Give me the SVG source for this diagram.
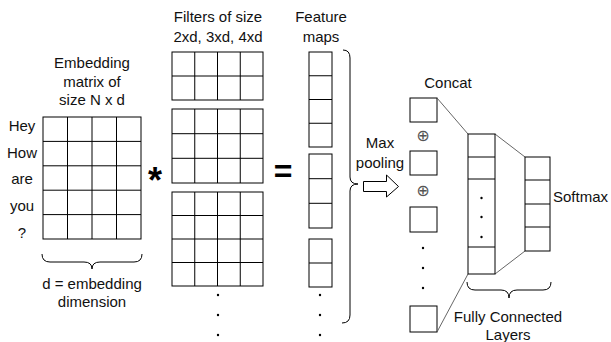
<svg xmlns="http://www.w3.org/2000/svg" width="611" height="342" viewBox="0 0 611 342">
<style>
text{font-family:"Liberation Sans",Arial,sans-serif;font-size:15px;fill:#111}
.c{text-anchor:middle}
.box{fill:#fff;stroke:#000;stroke-width:1}
.grid{stroke:#000;stroke-width:1;fill:none}
.br{fill:none;stroke:#000;stroke-width:1}
.ln{stroke:#555;stroke-width:0.9;fill:none}
.dot{fill:#000}
.op{font-family:"DejaVu Sans",sans-serif;font-size:16px;fill:#555}
</style>
<rect width="611" height="342" fill="#fff"/>

<g id="embedding">
<text class="c" x="92" y="68">Embedding</text>
<text class="c" x="92" y="87">matrix of</text>
<text class="c" x="92" y="105">size N x d</text>
<text class="c" x="22" y="131">Hey</text>
<text class="c" x="22" y="158">How</text>
<text class="c" x="22" y="184">are</text>
<text class="c" x="22" y="211">you</text>
<text class="c" x="22" y="238">?</text>
<rect class="box" x="43" y="117" width="98" height="122"/>
<path class="grid" d="M67.5,117V239M92,117V239M116.5,117V239M43,141.4H141M43,165.8H141M43,190.2H141M43,214.6H141"/>
<path class="br" d="M42,254Q42,262 50,262L84,262Q92,262 92,269Q92,262 100,262L134,262Q142,262 142,254"/>
<text class="c" x="92" y="289">d = embedding</text>
<text class="c" x="92" y="307">dimension</text>
</g>

<g id="conv-op">
<text class="c" x="155" y="193" style="font-size:36px;font-weight:bold;fill:#000">*</text>
</g>

<g id="filters">
<text class="c" x="218" y="22">Filters of size</text>
<text class="c" x="218" y="42">2xd, 3xd, 4xd</text>
<rect class="box" x="172" y="52" width="91" height="48"/>
<path class="grid" d="M194.75,52V100M217.5,52V100M240.25,52V100M172,76H263"/>
<rect class="box" x="172" y="109" width="91" height="74"/>
<path class="grid" d="M194.75,109V183M217.5,109V183M240.25,109V183M172,133.7H263M172,158.3H263"/>
<rect class="box" x="172" y="192" width="91" height="94"/>
<path class="grid" d="M194.75,192V286M217.5,192V286M240.25,192V286M172,215.5H263M172,239H263M172,262.5H263"/>
<circle class="dot" cx="218" cy="295" r="1.2"/>
<circle class="dot" cx="218" cy="315" r="1.2"/>
<circle class="dot" cx="218" cy="335" r="1.2"/>
</g>

<g id="equals">
<text class="c" x="283" y="182" style="font-size:32px;font-weight:bold;fill:#000">=</text>
</g>

<g id="feature-maps">
<text class="c" x="321" y="22">Feature</text>
<text class="c" x="321" y="42">maps</text>
<rect class="box" x="309" y="52" width="23" height="95"/>
<path class="grid" d="M309,75.75H332M309,99.5H332M309,123.25H332"/>
<rect class="box" x="309" y="154" width="23" height="74"/>
<path class="grid" d="M309,178.7H332M309,203.3H332"/>
<rect class="box" x="309" y="239" width="23" height="48"/>
<path class="grid" d="M309,263H332"/>
<circle class="dot" cx="320" cy="295" r="1.2"/>
<circle class="dot" cx="320" cy="315" r="1.2"/>
<circle class="dot" cx="320" cy="335" r="1.2"/>
<path class="br" d="M343,50Q350,50 350,58L350,177Q350,184 358,184Q350,184 350,191L350,315Q350,323 342,323"/>
</g>

<g id="max-pooling">
<text class="c" x="380" y="148">Max</text>
<text class="c" x="380" y="168">pooling</text>
<path fill="#fff" stroke="#000" stroke-width="1" d="M363.5,181.5H386.5V175L398.5,186.5L386.5,197V191.5H363.5Z"/>
</g>

<g id="concat">
<text class="c" x="448" y="88">Concat</text>
<rect class="box" x="410" y="98" width="27" height="24"/>
<text class="op c" x="423" y="141">⊕</text>
<rect class="box" x="410" y="151" width="27" height="24"/>
<text class="op c" x="423" y="196">⊕</text>
<rect class="box" x="410" y="207" width="27" height="25"/>
<circle class="dot" cx="423" cy="248" r="1.2"/>
<circle class="dot" cx="423" cy="268" r="1.2"/>
<circle class="dot" cx="423" cy="288" r="1.2"/>
<rect class="box" x="410" y="306" width="27" height="26"/>
</g>

<g id="connectors">
<path class="ln" d="M437,98L468,134"/>
<path class="ln" d="M437,332L468,274"/>
<path class="ln" d="M495,134L525,157"/>
<path class="ln" d="M495,274L525,251"/>
</g>

<g id="fc-layer">
<rect class="box" x="468" y="134" width="27" height="140"/>
<path class="grid" d="M468,157H495M468,179H495M468,247H495"/>
<circle class="dot" cx="481.5" cy="198" r="1.2"/>
<circle class="dot" cx="481.5" cy="217" r="1.2"/>
<circle class="dot" cx="481.5" cy="237" r="1.2"/>
</g>

<g id="softmax">
<rect class="box" x="525" y="157" width="25" height="94"/>
<path class="grid" d="M525,180H550M525,204H550M525,227H550"/>
<text x="553" y="202">Softmax</text>
</g>

<g id="fc-label">
<path class="br" d="M467,282Q467,290 475,290L501,290Q509,290 509,298Q509,290 517,290L543,290Q551,290 551,282"/>
<text class="c" x="508" y="322">Fully Connected</text>
<text class="c" x="508" y="340">Layers</text>
</g>
</svg>
